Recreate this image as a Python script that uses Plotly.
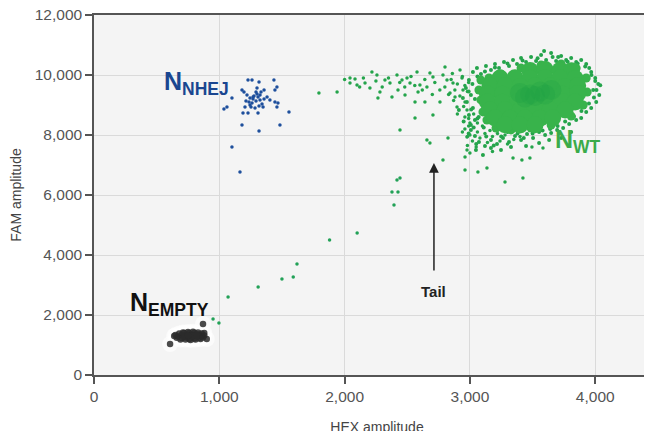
import plotly.graph_objects as go

# ---- data (HEX amplitude, FAM amplitude) ----
# dense core of the wild-type cluster
wt_core_x = [3480, 3600, 3720, 3810,
             3240, 3360, 3480, 3600, 3720, 3840,
             3160, 3280, 3400, 3520, 3640, 3760, 3860,
             3140, 3260, 3380, 3500, 3620, 3740, 3860,
             3140, 3260, 3380, 3500, 3620, 3740, 3840,
             3160, 3280, 3400, 3520, 3640, 3760,
             3200, 3320, 3440, 3560, 3660,
             3280, 3400, 3520]
wt_core_y = [10150, 10180, 10160, 10140,
             9900, 9910, 9890, 9920, 9900, 9880,
             9630, 9640, 9620, 9640, 9630, 9620, 9640,
             9370, 9360, 9370, 9360, 9370, 9360, 9380,
             9100, 9090, 9110, 9100, 9090, 9110, 9100,
             8830, 8840, 8820, 8830, 8840, 8830,
             8570, 8560, 8570, 8560, 8570,
             8340, 8330, 8340]
# darkest centre of the wild-type cluster
wt_center_x = [3400, 3480, 3560, 3520, 3440, 3600, 3650]
wt_center_y = [9400, 9350, 9450, 9300, 9250, 9350, 9500]
# ring of droplets bordering the core
wt_ring_x = [3088, 3072, 3088, 3104, 3136, 3208, 3328, 3488, 3648, 3808,
             3904, 3936, 3928, 3848, 3728, 3568, 3408, 3248, 3152]
wt_ring_y = [9830, 9500, 9170, 8770, 8500, 8230, 8170, 8230, 8330, 8630,
             9000, 9430, 9900, 10230, 10370, 10330, 10230, 10030, 9900]
# ragged outer droplets of the wild-type cluster
wt_edge_x = [3024, 3056, 3088, 3128, 3168, 3200, 3232, 3272, 3312, 3344,
             3376, 3408, 3448, 3488, 3528, 3568, 3592, 3608, 3648, 3688,
             3704, 3728, 3768, 3808, 3848, 3888, 3928, 3952,
             3968, 4000, 4024, 3984, 4032, 4008, 3968, 4040,
             3928, 3888, 3848, 3792, 3744, 3696, 3648, 3600, 3552, 3504,
             3456, 3408, 3360, 3312, 3264, 3216, 3168, 3120, 3072, 3040, 3008,
             3048, 3104, 3168, 3248, 3328, 3448, 3552, 3632, 3728, 3808,
             2992, 2968, 3008, 2976, 3024, 2992, 3040, 3008, 2944, 2912,
             2950, 2990, 3030, 3070, 3110, 3050, 3130, 3190, 3250, 3300,
             3380, 3430, 3500, 3580, 3640, 3700, 3760, 3830, 3890, 3950,
             3990, 4010, 4000, 3970, 3920, 3860, 3780, 3660, 3540, 3420,
             3300, 3200, 3120, 3060, 3020, 2990, 3040, 3010, 3060]
wt_edge_y = [10100, 10230, 10030, 10300, 10170, 10370, 10230, 10430, 10300, 10500,
             10370, 10570, 10430, 10600, 10470, 10670, 10800, 10500, 10730, 10470,
             10600, 10630, 10500, 10570, 10430, 10500, 10370, 10230,
             10100, 9900, 9700, 9500, 9330, 9100, 8900, 9660,
             8770, 8570, 8500, 8370, 8230, 8170, 8070, 8000, 8100, 7900,
             8030, 7830, 7970, 7770, 7900, 7700, 7830, 7630, 7770, 7970, 8170,
             7500, 7330, 7570, 7500, 7600, 7630, 7730, 7830, 7900, 8100,
             9830, 9570, 9330, 9100, 8900, 8670, 8500, 8330, 9230, 8830,
             8450, 8050, 8250, 8600, 8250, 7700, 7950, 7650, 7950, 8100,
             8050, 7900, 8050, 8150, 8200, 8300, 8450, 8620, 8800, 9050,
             9250, 9500, 9800, 10000, 10280, 10380, 10440, 10600, 10560, 10480,
             10380, 10250, 10120, 9950, 9700, 9450, 9200, 8850, 8550]
# scattered droplets left of and below the wild-type cluster
wt_scatter_x = [2043, 2083, 2043, 2099, 2163, 2218, 2258, 2202, 2282, 2266,
                2322, 2362, 2378, 2418, 2426, 2458, 2482, 2498, 2522, 2562,
                2578, 2586, 2601, 2562, 2442, 2657, 2681, 2681, 2705, 2657,
                2641, 2705, 2761, 2785, 2801, 2817, 2841, 2825, 2785, 2865,
                2881, 2897, 2921, 2937, 2945, 2961, 2977, 2961, 2977, 2961,
                3000, 2977, 3064, 3136, 3280, 3423, 3344, 3415, 3479, 3495, 3583,
                2800, 2850, 2880, 2900, 2920, 2940, 2960, 2870, 2830, 2980,
                2990, 2950, 2900, 2960, 2990, 2940, 2980, 2860, 2760, 2720,
                2700, 2640, 2620, 2560, 2530, 2480, 2440, 2350, 2300, 2250,
                2150, 2120, 2000, 1940, 1795,
                2960, 3000, 3020, 3060, 3080, 3100, 3120, 3140, 3160, 3180,
                3200, 3220, 3240, 3280, 2980, 3050, 3000, 3180, 3300, 3350,
                3400, 3060, 2990, 3030]
wt_scatter_y = [9900, 9866, 9733, 9666, 9733, 10100, 10000, 9566, 9433, 9233,
                9833, 9733, 9266, 10000, 9500, 9833, 9333, 9900, 9733, 9100,
                10100, 9433, 9666, 8566, 8166, 7833, 7733, 10066, 9933, 9600,
                9100, 8666, 9100, 10000, 10266, 9833, 9400, 7900, 7166, 9733,
                9266, 8933, 10166, 9900, 9500, 9100, 8833, 7266, 7500, 6833,
                8400, 7933, 6766, 6900, 6433, 6566, 7233, 7166, 7233, 7600, 7566,
                9600, 9850, 9500, 9700, 9300, 9950, 9650, 9150, 9350, 9450,
                9750, 8950, 8700, 8600, 8300, 8100, 7950, 10050, 9500, 9750,
                9350, 9850, 9500, 9650, 9950, 9600, 9750, 9900, 9600, 9800,
                9900, 9600, 9850, 9430, 9400,
                8200, 8000, 7800, 8100, 7900, 8300, 8050, 7750, 8150, 7950,
                8350, 8050, 7800, 8000, 7650, 7600, 7400, 7450, 7700, 7850,
                7950, 8400, 8550, 8700]
# the tail running from the empty droplets up to the wild-type cluster
tail_x = [950, 997, 1070, 1310, 1500, 1590, 1620, 1880, 2100,
          2418, 2442, 2378, 2426, 2394]
tail_y = [1870, 1730, 2600, 2930, 3200, 3270, 3700, 4500, 4730,
          6500, 6566, 6100, 6100, 5666]
# NHEJ cluster
nhej_x = [1229, 1261, 1436, 1317, 1181, 1301, 1357, 1444, 1460, 1101,
          1221, 1269, 1325, 1381, 1404, 1444, 1468, 1061, 1037, 1205,
          1245, 1285, 1309, 1229, 1189, 1349, 1460, 1556, 1181, 1484,
          1317, 1101, 1165,
          1245, 1293, 1309, 1261, 1325, 1277, 1237, 1341, 1301, 1269,
          1213, 1357, 1317, 1253, 1293, 1333, 1197]
nhej_y = [9830, 9830, 9830, 9770, 9500, 9570, 9500, 9500, 9600, 9230,
          9330, 9270, 9330, 9270, 9170, 9100, 9070, 8930, 8870, 8930,
          9000, 8900, 8730, 8730, 8730, 8930, 8930, 8770, 8330, 8330,
          8130, 7600, 6770,
          9230, 9130, 9270, 9070, 9170, 9300, 9100, 9030, 9370, 9200,
          9130, 9200, 8970, 8930, 9430, 9430, 9430]
# empty droplets
empty_x = [650, 670, 680, 700, 700, 720, 720, 740, 740, 760, 760, 760, 780,
           780, 800, 800, 800, 820, 820, 840, 840, 860, 860, 880, 690, 730,
           770, 810, 850, 660, 710, 750, 790, 830, 870, 880, 720, 780, 820,
           750, 640, 900, 870, 607]
empty_y = [1330, 1280, 1380, 1230, 1330, 1300, 1400, 1250, 1350, 1200, 1300,
           1400, 1260, 1350, 1220, 1320, 1410, 1280, 1370, 1240, 1330, 1290,
           1380, 1320, 1180, 1180, 1170, 1180, 1200, 1240, 1420, 1430, 1440,
           1420, 1250, 1400, 1260, 1310, 1320, 1310, 1300, 1200, 1700, 1030]

x_ticks = [0, 1000, 2000, 3000, 4000]
y_ticks = [0, 2000, 4000, 6000, 8000, 10000, 12000]

GREEN = "#38b34b"
DOT_GREEN = "#24a44b"
BLUE = "#1e4f9c"

fig = go.Figure()


def add(x, y, color, size, opacity=1.0):
    fig.add_trace(go.Scatter(x=x, y=y, mode="markers", hoverinfo="skip",
                             marker=dict(color=color, size=size, opacity=opacity,
                                         line=dict(width=0)),
                             showlegend=False))


add(empty_x, empty_y, "#ffffff", 16, 0.6)
add(empty_x, empty_y, "#2c2c2c", 6.5, 0.85)
add(tail_x, tail_y, "#22a157", 3.5)
add(nhej_x, nhej_y, BLUE, 3.5)
add(wt_scatter_x, wt_scatter_y, DOT_GREEN, 3.5)
add(wt_edge_x, wt_edge_y, DOT_GREEN, 4)
add(wt_ring_x, wt_ring_y, GREEN, 9)
add(wt_core_x, wt_core_y, GREEN, 17)
add(wt_center_x, wt_center_y, "#1d9e43", 20, 0.25)

label_font = "Liberation Sans, Arial, sans-serif"
fig.add_annotation(x=543, y=9720, xref="x", yref="y", xanchor="left", yanchor="middle",
                   text="<b>N<sub>NHEJ</sub></b>", showarrow=False,
                   font=dict(family=label_font, size=25, color="#1a4690"))
fig.add_annotation(x=271, y=2370, xref="x", yref="y", xanchor="left", yanchor="middle",
                   text="<b>N<sub>EMPTY</sub></b>", showarrow=False,
                   font=dict(family=label_font, size=25, color="#111111"))
fig.add_annotation(x=3663, y=7810, xref="x", yref="y", xanchor="left", yanchor="middle",
                   text="<b>N<sub>WT</sub></b>", showarrow=False,
                   font=dict(family=label_font, size=25, color="#3aab4a"))
fig.add_annotation(x=2713, y=7070, ax=2713, ay=3430, xref="x", yref="y",
                   axref="x", ayref="y", text="", showarrow=True,
                   arrowhead=2, arrowsize=1.3, arrowwidth=1.5, arrowcolor="#222222")
fig.add_annotation(x=2713, y=2800, xref="x", yref="y", text="<b>Tail</b>",
                   showarrow=False, font=dict(family=label_font, size=15, color="#222222"))

axis_common = dict(showline=True, linecolor="#555555", linewidth=1.5,
                   ticks="outside", ticklen=7, tickwidth=1.5, tickcolor="#555555",
                   showgrid=True, gridcolor="#dadada", gridwidth=1, zeroline=False,
                   automargin=False, ticklabeloverflow="allow",
                   tickfont=dict(family=label_font, size=15.5, color="#555555"),
                   tickformat=",d")

# the page body adds an 8px offset, so the margins are reduced to compensate
fig.update_layout(
    width=652, height=431,
    margin=dict(l=86, r=0, t=7, b=64),
    paper_bgcolor="white", plot_bgcolor="#f4f4f4",
    xaxis=dict(range=[0, 4517], tickvals=x_ticks, mirror=True,
               title=dict(text="HEX amplitude", standoff=18,
                          font=dict(family=label_font, size=14, color="#444444")),
               **axis_common),
    yaxis=dict(range=[0, 12000], tickvals=y_ticks,
               title=dict(text="FAM amplitude", standoff=18,
                          font=dict(family=label_font, size=14, color="#444444")),
               **axis_common),
)

fig.write_html("out.html")
